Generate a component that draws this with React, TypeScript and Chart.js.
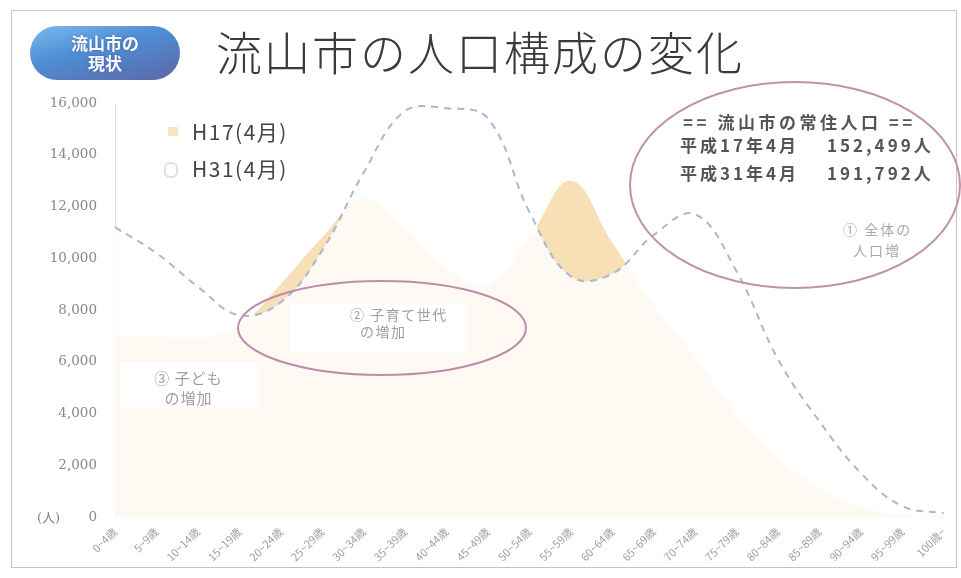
import React, { useEffect, useRef } from "react";
import { Chart, registerables } from "chart.js";

Chart.register(...registerables);

// ---- data ----
const ageLabels = [
  "0~4歳", "5~9歳", "10~14歳", "15~19歳", "20~24歳", "25~29歳", "30~34歳",
  "35~39歳", "40~44歳", "45~49歳", "50~54歳", "55~59歳", "60~64歳", "65~69歳",
  "70~74歳", "75~79歳", "80~84歳", "85~89歳", "90~94歳", "95~99歳", "100歳~",
];
const h17Values = [
  7000, 7000, 6900, 7400, 9000, 10800, 12300, 11200, 9600, 9000, 10800,
  13000, 10600, 8200, 6200, 4000, 2300, 1100, 400, 80, 10,
];
const h31Values = [
  11200, 10200, 8900, 7800, 8300, 10300, 13300, 15700, 15800, 15400, 11800,
  9300, 9400, 10900, 11700, 9500, 6100, 3700, 1700, 420, 150,
];
const seriesNames = ["H17(4月)", "H31(4月)"];
const yMin = 0;
const yMax = 16000;
const yStep = 2000;
const residentTitle = "== 流山市の常住人口 ==";
const residentRows = [
  ["平成17年4月", "152,499人"],
  ["平成31年4月", "191,792人"],
];

const JP = '"Noto Sans CJK JP", "Noto Sans", sans-serif';

export default function App() {
  const canvasRef = useRef<HTMLCanvasElement | null>(null);

  useEffect(() => {
    const canvas = canvasRef.current;
    if (!canvas) return;
    const chart = new Chart(canvas, {
      type: "line",
      data: {
        labels: ageLabels,
        datasets: [
          {
            label: seriesNames[1],
            data: h31Values,
            borderColor: "rgba(165,180,204,0.95)",
            borderWidth: 2,
            borderDash: [7, 6],
            backgroundColor: "rgba(255,255,255,0.82)",
            fill: "origin",
            tension: 0.4,
            pointRadius: 0,
            order: 0,
          },
          {
            label: seriesNames[0],
            data: h17Values,
            borderWidth: 0,
            borderColor: "rgba(0,0,0,0)",
            backgroundColor: "rgb(247,223,182)",
            fill: "origin",
            tension: 0.4,
            pointRadius: 0,
            order: 1,
          },
        ],
      },
      options: {
        animation: false,
        responsive: false,
        layout: { padding: { top: 103, right: 16, bottom: 0, left: 0 } },
        plugins: {
          legend: { display: false },
          tooltip: { enabled: false },
        },
        scales: {
          x: {
            offset: false,
            grid: { display: false, drawTicks: false },
            border: { display: false },
            ticks: {
              autoSkip: false,
              minRotation: 45,
              maxRotation: 45,
              padding: 8,
              color: "#a0a0a0",
              font: { size: 11, family: JP },
            },
            afterFit: (s: any) => {
              s.height = 61;
            },
          },
          y: {
            min: yMin,
            max: yMax,
            grid: { display: false, drawTicks: false },
            border: { display: true, color: "rgba(215,215,215,0.7)" },
            ticks: {
              stepSize: yStep,
              padding: 18,
              color: "#888",
              font: { size: 13.5, family: '"DejaVu Serif", serif' },
              callback: (v: any) => Number(v).toLocaleString("en-US"),
            },
            afterFit: (s: any) => {
              s.width = 115;
            },
          },
        },
      },
    });
    return () => chart.destroy();
  }, []);

  const abs = (o: React.CSSProperties): React.CSSProperties => ({
    position: "absolute",
    whiteSpace: "nowrap",
    ...o,
  });

  return (
    <div
      style={{
        position: "fixed",
        left: 0,
        top: 0,
        width: 961,
        height: 578,
        background: "#fff",
        overflow: "hidden",
      }}
    >
      <canvas
        ref={canvasRef}
        width={961}
        height={578}
        style={{ position: "absolute", left: 0, top: 0, width: 961, height: 578 }}
      />
      {/* frame */}
      <div
        style={abs({
          left: 11,
          top: 10,
          width: 944,
          height: 556,
          border: "1px solid #c4c4c4",
          pointerEvents: "none",
        })}
      />
      {/* pill */}
      <div
        style={abs({
          left: 30,
          top: 26,
          width: 150,
          height: 54,
          borderRadius: 27,
          background:
            "linear-gradient(165deg, #7bbcf0 0%, #4f8fd6 40%, #5b67a8 100%)",
          color: "#fff",
          fontFamily: JP,
          fontWeight: 700,
          fontSize: 17,
          lineHeight: "20px",
          textAlign: "center",
          display: "flex",
          flexDirection: "column",
          justifyContent: "center",
          textShadow: "0 0 2px rgba(40,60,120,0.6)",
        })}
      >
        <div>流山市の</div>
        <div>現状</div>
      </div>
      {/* title */}
      <div
        style={abs({
          left: 216,
          top: 27,
          fontFamily: JP,
          fontWeight: 300,
          fontSize: 46,
          lineHeight: "46px",
          letterSpacing: 2,
          color: "#3a3a3a",
        })}
      >
        流山市の人口構成の変化
      </div>
      {/* legend */}
      <div
        style={abs({
          left: 168,
          top: 127,
          width: 10,
          height: 9,
          background: "rgb(247,228,195)",
        })}
      />
      <div
        style={abs({
          left: 192,
          top: 119,
          fontFamily: JP,
          fontSize: 21,
          lineHeight: "24px",
          letterSpacing: 1.5,
          color: "#444",
        })}
      >
        {seriesNames[0]}
      </div>
      <div
        style={abs({
          left: 164,
          top: 162,
          width: 10,
          height: 12,
          borderRadius: 6,
          border: "2px solid #e0e0e0",
        })}
      />
      <div
        style={abs({
          left: 192,
          top: 156,
          fontFamily: JP,
          fontSize: 21,
          lineHeight: "24px",
          letterSpacing: 1.5,
          color: "#444",
        })}
      >
        {seriesNames[1]}
      </div>
      {/* (人) */}
      <div
        style={abs({
          left: 37,
          top: 510,
          fontFamily: '"DejaVu Serif", "Noto Sans CJK JP", serif',
          fontSize: 13,
          lineHeight: "16px",
          color: "#808080",
        })}
      >
        (人)
      </div>
      {/* ③ box */}
      <div
        style={abs({ left: 120, top: 362, width: 137, height: 46, background: "#fff" })}
      />
      <div
        style={abs({
          left: 120,
          top: 368,
          width: 137,
          textAlign: "center",
          fontFamily: JP,
          fontSize: 15,
          lineHeight: "20px",
          letterSpacing: 1,
          color: "#a0a0a0",
        })}
      >
        <div>③ 子ども</div>
        <div>の増加</div>
      </div>
      {/* ② box */}
      <div
        style={abs({ left: 290, top: 303, width: 175, height: 50, background: "#fff" })}
      />
      <div
        style={abs({
          left: 350,
          top: 306,
          fontFamily: JP,
          fontSize: 14,
          lineHeight: "17px",
          letterSpacing: 1.5,
          color: "#a0a0a0",
        })}
      >
        ② 子育て世代
      </div>
      <div
        style={abs({
          left: 360,
          top: 323,
          fontFamily: JP,
          fontSize: 14,
          lineHeight: "17px",
          letterSpacing: 1.5,
          color: "#a0a0a0",
        })}
      >
        の増加
      </div>
      {/* ellipses */}
      <svg
        width={961}
        height={578}
        style={{ position: "absolute", left: 0, top: 0, pointerEvents: "none" }}
      >
        <ellipse
          cx={382}
          cy={328}
          rx={144}
          ry={47}
          fill="none"
          stroke="rgb(190,140,170)"
          strokeWidth={2}
        />
        <ellipse
          cx={795}
          cy={185}
          rx={165}
          ry={103}
          fill="none"
          stroke="rgb(190,145,172)"
          strokeWidth={2}
        />
      </svg>
      {/* resident population text */}
      <div
        style={abs({
          left: 683,
          top: 112,
          fontFamily: JP,
          fontWeight: 700,
          fontSize: 17,
          lineHeight: "20px",
          letterSpacing: 3.5,
          color: "#555",
        })}
      >
        {residentTitle}
      </div>
      {residentRows.map((r, i) => (
        <React.Fragment key={i}>
          <div
            style={abs({
              left: 680,
              top: 135 + i * 28,
              fontFamily: JP,
              fontWeight: 700,
              fontSize: 17,
              lineHeight: "20px",
              letterSpacing: 3,
              color: "#555",
            })}
          >
            {r[0]}
          </div>
          <div
            style={abs({
              left: 827,
              top: 135 + i * 28,
              fontFamily: JP,
              fontWeight: 700,
              fontSize: 17,
              lineHeight: "20px",
              letterSpacing: 3,
              color: "#555",
            })}
          >
            {r[1]}
          </div>
        </React.Fragment>
      ))}
      {/* ① */}
      <div
        style={abs({
          left: 843,
          top: 219,
          fontFamily: JP,
          fontSize: 14,
          lineHeight: "20px",
          letterSpacing: 2,
          color: "#aaa",
        })}
      >
        ① 全体の
      </div>
      <div
        style={abs({
          left: 853,
          top: 240,
          fontFamily: JP,
          fontSize: 14,
          lineHeight: "20px",
          letterSpacing: 2,
          color: "#aaa",
        })}
      >
        人口増
      </div>
    </div>
  );
}
